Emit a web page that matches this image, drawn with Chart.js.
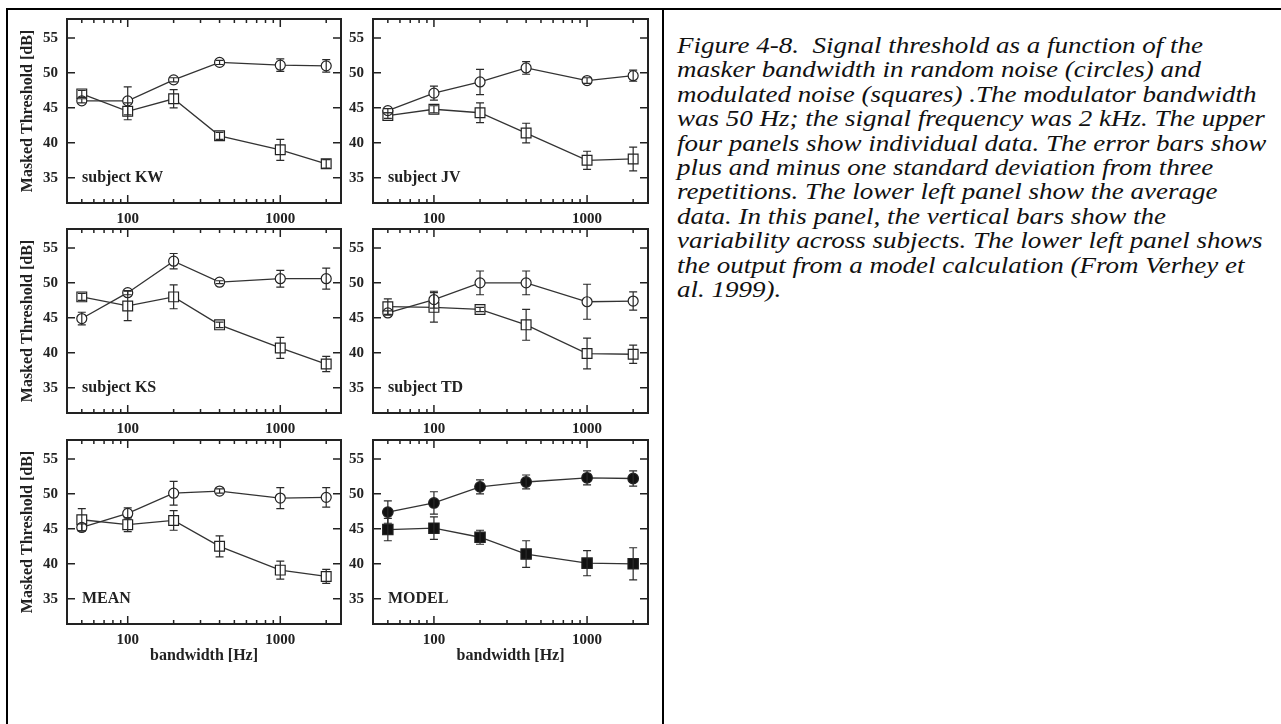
<!DOCTYPE html>
<html>
<head>
<meta charset="utf-8">
<script src="https://cdn.jsdelivr.net/npm/chart.js@4.4.1/dist/chart.umd.min.js"></script>
<style>
  body { margin: 0; background: #fff; width: 1281px; height: 724px; overflow: hidden; position: relative; }
  .rule { position: absolute; background: #000; }
  canvas { position: absolute; }
  #caption { position: absolute; left: 677px; top: 34px; font-family: "Liberation Serif", "Times New Roman", serif; font-style: italic; font-size: 22.5px; line-height: 24.4px; color: #111; white-space: nowrap; transform: scaleX(1.2); transform-origin: 0 0; }
</style>
</head>
<body>
<div class="rule" style="left:6px;top:8px;width:1275px;height:2px"></div>
<div class="rule" style="left:6px;top:8px;width:2px;height:716px"></div>
<div class="rule" style="left:662px;top:8px;width:2px;height:716px"></div>

<canvas id="kw"></canvas>
<canvas id="jv"></canvas>
<canvas id="ks"></canvas>
<canvas id="td"></canvas>
<canvas id="mean"></canvas>
<canvas id="model"></canvas>

<div id="caption">Figure 4-8.&nbsp; Signal threshold as a function of the<br>masker bandwidth in random noise (circles) and<br>modulated noise (squares) .The modulator bandwidth<br>was 50 Hz; the signal frequency was 2 kHz. The upper<br>four panels show individual data. The error bars show<br>plus and minus one standard deviation from three<br>repetitions. The lower left panel show the average<br>data. In this panel, the vertical bars show the<br>variability across subjects. The lower left panel shows<br>the output from a model calculation (From Verhey et<br>al. 1999).</div>

<script>
const bandwidths = [50, 100, 200, 400, 1000, 2000];

// circles = random noise, squares = modulated noise
const kwRandom = [46.0, 46.0, 49.0, 51.5, 51.1, 51.0];
const kwRandomErr = [0.3, 2.0, 0.3, 0.3, 0.9, 0.9];
const kwModulated = [47.0, 44.5, 46.3, 41.0, 39.0, 37.0];
const kwModulatedErr = [0.5, 1.2, 1.3, 0.5, 1.5, 0.6];

const jvRandom = [44.6, 47.1, 48.7, 50.7, 48.9, 49.6];
const jvRandomErr = [0.3, 1.0, 1.8, 0.9, 0.4, 0.8];
const jvModulated = [43.9, 44.8, 44.3, 41.4, 37.5, 37.7];
const jvModulatedErr = [0.4, 0.5, 1.4, 1.4, 1.3, 1.7];

const ksRandom = [44.9, 48.6, 53.1, 50.1, 50.6, 50.6];
const ksRandomErr = [0.9, 0.3, 1.1, 0.2, 1.2, 1.5];
const ksModulated = [48.0, 46.7, 48.0, 44.0, 40.7, 38.4];
const ksModulatedErr = [0.5, 2.1, 1.7, 0.4, 1.5, 1.1];

const tdRandom = [45.7, 47.6, 50.0, 50.0, 47.3, 47.4];
const tdRandomErr = [0.3, 1.2, 1.7, 1.7, 2.5, 1.3];
const tdModulated = [46.6, 46.5, 46.2, 44.0, 39.9, 39.8];
const tdModulatedErr = [1.1, 2.1, 0.3, 2.2, 2.2, 1.3];

const meanRandom = [45.2, 47.2, 50.1, 50.4, 49.4, 49.5];
const meanRandomErr = [0.5, 0.8, 1.7, 0.3, 1.5, 1.4];
const meanModulated = [46.3, 45.6, 46.2, 42.5, 39.1, 38.2];
const meanModulatedErr = [1.6, 1.0, 1.4, 1.5, 1.3, 1.0];

const modelRandom = [47.4, 48.7, 51.0, 51.7, 52.3, 52.2];
const modelRandomErr = [1.6, 1.6, 1.0, 1.0, 1.0, 1.1];
const modelModulated = [44.9, 45.1, 43.8, 41.4, 40.1, 40.0];
const modelModulatedErr = [1.6, 1.6, 1.0, 1.9, 1.8, 2.3];

const yTicks = [35, 40, 45, 50, 55];
const xLabelTicks = [100, 1000];
const xMinorTicks = [50, 60, 70, 80, 90, 200, 300, 400, 500, 600, 700, 800, 900, 2000];

const serif = '"Liberation Serif", "Times New Roman", serif';
const ink = '#222';

// frame boxes of the six panels (page pixels)
const cols = [{ left: 67, width: 274, axisW: 60 }, { left: 373, width: 275, axisW: 30 }];
const rows = [{ top: 19, axisH: 26 }, { top: 229, axisH: 26 }, { top: 440, axisH: 46 }];
const frameH = 184, padTop = 18, padRight = 10;

const panels = [
  { id: 'kw', label: 'subject KW', col: 0, row: 0, random: kwRandom, randomErr: kwRandomErr, mod: kwModulated, modErr: kwModulatedErr },
  { id: 'jv', label: 'subject JV', col: 1, row: 0, random: jvRandom, randomErr: jvRandomErr, mod: jvModulated, modErr: jvModulatedErr },
  { id: 'ks', label: 'subject KS', col: 0, row: 1, random: ksRandom, randomErr: ksRandomErr, mod: ksModulated, modErr: ksModulatedErr },
  { id: 'td', label: 'subject TD', col: 1, row: 1, random: tdRandom, randomErr: tdRandomErr, mod: tdModulated, modErr: tdModulatedErr },
  { id: 'mean', label: 'MEAN', col: 0, row: 2, random: meanRandom, randomErr: meanRandomErr, mod: meanModulated, modErr: meanModulatedErr },
  { id: 'model', label: 'MODEL', col: 1, row: 2, random: modelRandom, randomErr: modelRandomErr, mod: modelModulated, modErr: modelModulatedErr, filled: true }
];

// error bars, box frame, inward ticks and the panel name
const panelDeco = {
  id: 'panelDeco',
  afterDatasetsDraw(chart) {
    const { ctx, scales: { x, y } } = chart;
    ctx.save();
    ctx.strokeStyle = '#2a2a2a';
    ctx.lineWidth = 1.2;
    chart.data.datasets.forEach(ds => {
      ds.data.forEach((p, i) => {
        const e = ds.errors[i];
        const px = x.getPixelForValue(p.x);
        const top = y.getPixelForValue(p.y + e);
        const bot = y.getPixelForValue(p.y - e);
        ctx.beginPath();
        ctx.moveTo(px, top); ctx.lineTo(px, bot);
        ctx.moveTo(px - 4, top); ctx.lineTo(px + 4, top);
        ctx.moveTo(px - 4, bot); ctx.lineTo(px + 4, bot);
        ctx.stroke();
      });
    });
    ctx.restore();
  },
  afterDraw(chart, args, opts) {
    const { ctx, chartArea: a, scales: { x, y } } = chart;
    ctx.save();
    ctx.strokeStyle = ink;
    ctx.lineWidth = 2;
    ctx.strokeRect(a.left, a.top, a.right - a.left, a.bottom - a.top);

    ctx.lineWidth = 1.5;
    ctx.beginPath();
    const xt = xMinorTicks.map(v => [v, 4]).concat(xLabelTicks.map(v => [v, 8]));
    xt.forEach(([v, len]) => {
      const px = x.getPixelForValue(v);
      ctx.moveTo(px, a.bottom); ctx.lineTo(px, a.bottom - len);
      ctx.moveTo(px, a.top); ctx.lineTo(px, a.top + len);
    });
    yTicks.forEach(v => {
      const py = y.getPixelForValue(v);
      ctx.moveTo(a.left, py); ctx.lineTo(a.left + 8, py);
      ctx.moveTo(a.right, py); ctx.lineTo(a.right - 8, py);
    });
    ctx.stroke();

    ctx.fillStyle = ink;
    ctx.font = 'bold 16px ' + serif;
    ctx.textBaseline = 'middle';
    ctx.fillText(opts.label, a.left + 15, y.getPixelForValue(35));
    ctx.restore();
  }
};

function drawPanel(p) {
  const col = cols[p.col], row = rows[p.row];
  const canvas = document.getElementById(p.id);
  const w = col.axisW + col.width + padRight;
  const h = padTop + frameH + row.axisH;
  canvas.width = w; canvas.height = h;
  canvas.style.left = (col.left - col.axisW) + 'px';
  canvas.style.top = (row.top - padTop) + 'px';

  const points = vals => bandwidths.map((b, i) => ({ x: b, y: vals[i] }));
  const fill = p.filled ? '#111' : '#fff';
  const tickFont = { family: serif, weight: 'bold', size: 15 };

  new Chart(canvas.getContext('2d'), {
    type: 'line',
    data: {
      datasets: [{
        label: 'random noise',
        data: points(p.random),
        errors: p.randomErr,
        borderColor: '#333', borderWidth: 1.3,
        pointStyle: 'circle', pointRadius: p.filled ? 5.3 : 5,
        pointBackgroundColor: fill, pointBorderColor: ink, pointBorderWidth: 1.2
      }, {
        label: 'modulated noise',
        data: points(p.mod),
        errors: p.modErr,
        borderColor: '#333', borderWidth: 1.3,
        pointStyle: 'rect', pointRadius: p.filled ? 7.3 : 6.9,
        pointBackgroundColor: fill, pointBorderColor: ink, pointBorderWidth: 1.2
      }]
    },
    options: {
      responsive: false,
      animation: false,
      devicePixelRatio: 1,
      layout: { padding: { top: padTop, right: padRight, left: 0, bottom: 0 } },
      plugins: {
        legend: { display: false },
        tooltip: { enabled: false },
        panelDeco: { label: p.label }
      },
      scales: {
        x: {
          type: 'logarithmic', min: 40, max: 2500,
          grid: { display: false, drawTicks: false },
          border: { display: false },
          afterBuildTicks: s => { s.ticks = xLabelTicks.map(v => ({ value: v })); },
          afterFit: s => { s.height = row.axisH; },
          ticks: { autoSkip: false, maxRotation: 0, padding: 7, color: ink, font: tickFont, callback: v => String(v) },
          title: {
            display: p.row === 2, text: 'bandwidth [Hz]', color: ink,
            font: { family: serif, weight: 'bold', size: 16 },
            padding: { top: 0, bottom: 5 }
          }
        },
        y: {
          min: 31.4, max: 57.7,
          grid: { display: false, drawTicks: false },
          border: { display: false },
          afterBuildTicks: s => { s.ticks = yTicks.map(v => ({ value: v })); },
          afterFit: s => { s.width = col.axisW; },
          ticks: { padding: 9, color: ink, font: tickFont },
          title: {
            display: p.col === 0, text: 'Masked Threshold [dB]', color: ink,
            font: { family: serif, weight: 'bold', size: 16 },
            padding: { top: 11, bottom: 0 }
          }
        }
      }
    },
    plugins: [panelDeco]
  });
}

panels.forEach(drawPanel);
</script>
</body>
</html>
